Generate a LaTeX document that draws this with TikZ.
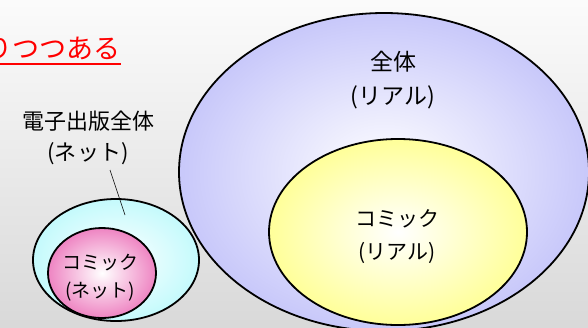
\documentclass[tikz,border=0pt]{standalone}
\usepackage{fontspec}
\setmainfont{Noto Sans CJK JP}
\definecolor{setblue}{HTML}{C8C8FA}
\definecolor{setyellow}{HTML}{FFFF99}
\definecolor{setcyan}{HTML}{C4FAFC}
\definecolor{setpink}{HTML}{EE84C2}
\tikzset{
  setline/.style={draw=black, line width=1.8pt},
  setlabel/.style={align=center, inner sep=0pt, font=\fontsize{22}{31}\selectfont},
}
\begin{document}
\begin{tikzpicture}[x=1pt,y=-1pt]
\shade[top color=gray!3, bottom color=gray!30] (0,0) rectangle (588,327);
\useasboundingbox (0,0) rectangle (588,327);
\clip (0,0) rectangle (588,327);
% heading, cut at the left edge
\node[anchor=east, text=red, inner sep=0pt, font=\fontsize{27}{27}\selectfont] (head) at (121,48) {りつつある};
\draw[red, line width=1.8pt] (0,64) -- (head.south east |- 0,64);
% real world
\shade[setline, inner color=white, outer color=setblue] (384,172) ellipse [x radius=205pt, y radius=159pt];
\node[setlabel, font=\fontsize{23}{34}\selectfont] (whole) at (393,80) {全体\\(リアル)};
\shade[setline, inner color=white, outer color=setyellow] (398,232) ellipse [x radius=129pt, y radius=93pt];
\node[setlabel, font=\fontsize{21}{33}\selectfont] (comicreal) at (397,237) {コミック\\(リアル)};
% net
\shade[setline, inner color=white, outer color=setcyan] (116,260) ellipse [x radius=83pt, y radius=61pt];
\shade[setline, inner color=white, outer color=setpink] (102,273) ellipse [x radius=54pt, y radius=45pt];
\node[setlabel, font=\fontsize{19}{28}\selectfont] (comicnet) at (100,278) {コミック\\(ネット)};
\node[setlabel] (netall) at (88,138) {電子出版全体\\(ネット)};
\coordinate (netpt) at (125,215);
\draw[black, line width=0.6pt] (110,170) -- (netpt);
\end{tikzpicture}
\end{document}
